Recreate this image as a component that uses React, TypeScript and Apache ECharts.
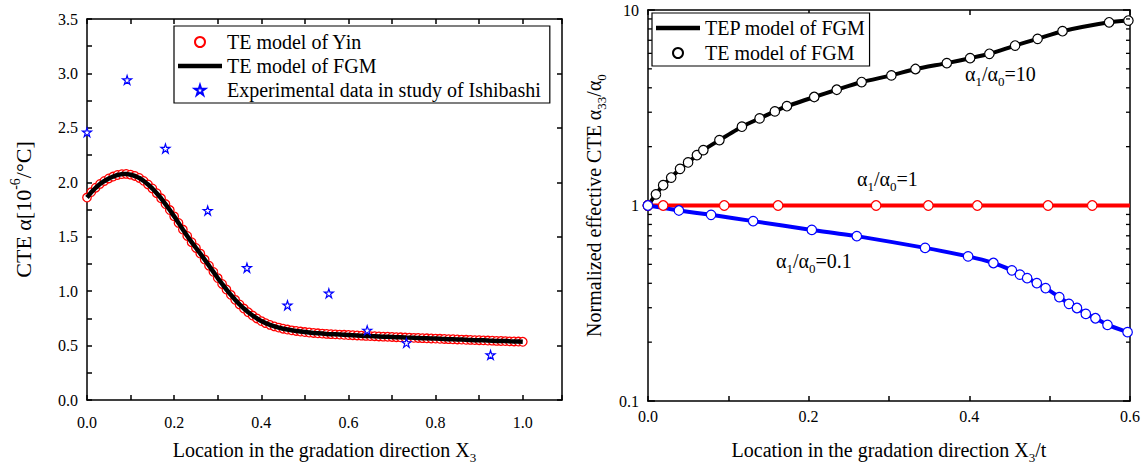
import React, { useEffect, useRef } from 'react';
import * as echarts from 'echarts';

const FONT = 'Liberation Serif';

// ---------- Left panel data ----------
const leftX = [
  0.00, 0.01, 0.02, 0.03, 0.04, 0.05, 0.06, 0.07, 0.08, 0.09,
  0.10, 0.11, 0.12, 0.13, 0.14, 0.15, 0.16, 0.17, 0.18, 0.19,
  0.20, 0.21, 0.22, 0.23, 0.24, 0.25, 0.26, 0.27, 0.28, 0.29,
  0.30, 0.31, 0.32, 0.33, 0.34, 0.35, 0.36, 0.37, 0.38, 0.39,
  0.40, 0.41, 0.42, 0.43, 0.44, 0.45, 0.46, 0.47, 0.48, 0.49,
  0.50, 0.51, 0.52, 0.53, 0.54, 0.55, 0.56, 0.57, 0.58, 0.59,
  0.60, 0.61, 0.62, 0.63, 0.64, 0.65, 0.66, 0.67, 0.68, 0.69,
  0.70, 0.71, 0.72, 0.73, 0.74, 0.75, 0.76, 0.77, 0.78, 0.79,
  0.80, 0.81, 0.82, 0.83, 0.84, 0.85, 0.86, 0.87, 0.88, 0.89,
  0.90, 0.91, 0.92, 0.93, 0.94, 0.95, 0.96, 0.97, 0.98, 0.99,
  1.00,
];
const yinY = [
  1.86, 1.91, 1.95, 1.985, 2.012, 2.035, 2.053, 2.067, 2.075, 2.077,
  2.07, 2.058, 2.04, 2.013, 1.98, 1.943, 1.9, 1.853, 1.8, 1.745,
  1.687, 1.627, 1.566, 1.507, 1.45, 1.397, 1.345, 1.29, 1.234, 1.177,
  1.12, 1.066, 1.015, 0.966, 0.92, 0.878, 0.84, 0.806, 0.776, 0.749,
  0.725, 0.706, 0.69, 0.676, 0.665, 0.655, 0.647, 0.64, 0.634, 0.629,
  0.624, 0.62, 0.616, 0.613, 0.61, 0.607, 0.605, 0.603, 0.601, 0.599,
  0.597, 0.595, 0.593, 0.591, 0.589, 0.587, 0.586, 0.584, 0.582, 0.581,
  0.579, 0.577, 0.576, 0.574, 0.573, 0.571, 0.57, 0.568, 0.567, 0.565,
  0.564, 0.562, 0.561, 0.559, 0.558, 0.556, 0.555, 0.553, 0.552, 0.55,
  0.549, 0.548, 0.546, 0.545, 0.543, 0.542, 0.541, 0.539, 0.538, 0.537,
  0.535,
];
// the FGM model curve coincides with Yin's model
const fgmLeftY = yinY;
const ishibashiX = [0.0, 0.092, 0.18, 0.277, 0.367, 0.46, 0.555, 0.643, 0.733, 0.926];
const ishibashiY = [2.46, 2.94, 2.31, 1.74, 1.215, 0.87, 0.98, 0.64, 0.525, 0.414];

// ---------- Right panel data ----------
const ratio10X = [0, 0.01, 0.019, 0.029, 0.04, 0.05, 0.061, 0.069, 0.089, 0.117, 0.139, 0.158, 0.173,
  0.207, 0.235, 0.266, 0.303, 0.333, 0.372, 0.401, 0.425, 0.457, 0.485, 0.516, 0.574, 0.598];
const ratio10Y = [1.0, 1.14, 1.27, 1.39, 1.54, 1.66, 1.81, 1.92, 2.16, 2.53, 2.79, 3.03, 3.22,
  3.59, 3.91, 4.28, 4.63, 4.99, 5.35, 5.67, 5.97, 6.58, 7.12, 7.79, 8.65, 8.83];
const ratio1LineX = [0, 0.6];
const ratio1LineY = [1, 1];
const ratio1X = [0.0, 0.019, 0.095, 0.162, 0.284, 0.349, 0.41, 0.498, 0.553];
const ratio1Y = [1, 1, 1, 1, 1, 1, 1, 1, 1];
const ratio01X = [0, 0.0386, 0.0786, 0.131, 0.204, 0.26, 0.345, 0.3985, 0.43, 0.453, 0.463, 0.472,
  0.484, 0.495, 0.512, 0.524, 0.534, 0.545, 0.557, 0.572, 0.597];
const ratio01Y = [1.0, 0.943, 0.896, 0.832, 0.75, 0.697, 0.607, 0.549, 0.508, 0.466, 0.443, 0.425,
  0.401, 0.378, 0.34, 0.314, 0.299, 0.279, 0.265, 0.245, 0.225];
const logMinorTicks = [0.2, 0.3, 0.4, 0.5, 0.6, 0.7, 0.8, 0.9, 2, 3, 4, 5, 6, 7, 8, 9];

const zip = (xs: number[], ys: number[]) => xs.map((x, i) => [x, ys[i]]);

const STAR = 'path://M50,2 L61,36 L97,36 L68,57 L79,92 L50,70 L21,92 L32,57 L3,36 L39,36 Z';
const BAR_ICON = 'path://M0,0 L44,0 L44,4.5 L0,4.5 Z';

const rich = {
  sub: { fontFamily: FONT, fontSize: 13, lineHeight: 28, verticalAlign: 'bottom', color: '#000' },
  sup: { fontFamily: FONT, fontSize: 13, lineHeight: 28, verticalAlign: 'top', color: '#000' },
  n: { fontFamily: FONT, fontSize: 20, lineHeight: 24, color: '#000' },
};
const richBig = {
  sub: { fontFamily: FONT, fontSize: 14, lineHeight: 30, verticalAlign: 'bottom', color: '#000' },
  sup: { fontFamily: FONT, fontSize: 14, lineHeight: 30, verticalAlign: 'top', color: '#000' },
};
const nameStyle = { fontFamily: FONT, fontSize: 20, color: '#000', lineHeight: 24, rich };
const lineStyle = { color: '#000', width: 1.5 };
const labelStyle = { fontFamily: FONT, fontSize: 16, color: '#000' };
const legendText = { fontFamily: FONT, fontSize: 20, color: '#000', lineHeight: 20 };

const stepFormatter = (step: number, every: number) => (v: number) => {
  const k = Math.round(v / step);
  if (Math.abs(v / step - k) > 1e-6 || k % every !== 0) return '';
  return (k * step).toFixed(1);
};

function leftOption(): any {
  const baseX = {
    type: 'value', gridIndex: 0, min: 0, max: 1.09, interval: 0.1,
    axisLine: { show: true, onZero: false, lineStyle },
    axisTick: { show: true, inside: true, length: 5, lineStyle },
    splitLine: { show: false },
  };
  const baseY = {
    type: 'value', gridIndex: 0, min: 0, max: 3.5,
    axisLine: { show: true, onZero: false, lineStyle },
    axisTick: { show: true, inside: true, length: 5, lineStyle },
    splitLine: { show: false },
  };
  return {
    animation: false,
    backgroundColor: '#fff',
    grid: [{ left: 78, top: 19, width: 484, height: 387 }],
    xAxis: [
      {
        ...baseX, position: 'bottom',
        axisLabel: { ...labelStyle, margin: 14, formatter: stepFormatter(0.1, 2) },
        name: 'Location in the gradation direction X{sub|3}', nameLocation: 'middle', nameGap: 36,
        nameTextStyle: nameStyle,
      },
      { ...baseX, position: 'top', axisLabel: { show: false } },
    ],
    yAxis: [
      {
        ...baseY, position: 'left', interval: 0.25,
        axisLabel: { ...labelStyle, margin: 9, formatter: stepFormatter(0.25, 2) },
        name: 'CTE α[10{sup|-6}/°C]', nameLocation: 'middle', nameGap: 49,
        nameTextStyle: { fontFamily: FONT, fontSize: 22, color: '#000', lineHeight: 26, rich: richBig },
      },
      { ...baseY, position: 'right', interval: 0.5, axisLabel: { show: false } },
    ],
    legend: {
      orient: 'vertical', left: 174, top: 26,
      padding: [6, 9, 3, 4], itemGap: 4, itemWidth: 44, itemHeight: 10,
      borderColor: '#000', borderWidth: 1.2, backgroundColor: '#fff',
      textStyle: legendText,
      data: [
        { name: 'TE model of Yin' },
        { name: 'TE model of FGM', icon: BAR_ICON },
        { name: 'Experimental data in study of Ishibashi' },
      ],
      selectedMode: false,
    },
    series: [
      {
        name: 'TE model of Yin', type: 'scatter', xAxisIndex: 0, yAxisIndex: 0,
        data: zip(leftX, yinY), symbol: 'circle', symbolSize: 8.5,
        itemStyle: { color: '#fff', borderColor: '#ff0000', borderWidth: 1.3, opacity: 1 },
        z: 2,
      },
      {
        name: 'TE model of FGM', type: 'line', xAxisIndex: 0, yAxisIndex: 0,
        data: zip(leftX, fgmLeftY), symbol: 'none', showSymbol: false,
        lineStyle: { color: '#000', width: 4.5 }, itemStyle: { color: '#000' },
        z: 3,
      },
      {
        name: 'Experimental data in study of Ishibashi', type: 'scatter', xAxisIndex: 0, yAxisIndex: 0,
        data: zip(ishibashiX, ishibashiY), symbol: STAR, symbolSize: 9, clip: false,
        itemStyle: { color: '#fff', borderColor: '#0000ff', borderWidth: 1.2, opacity: 1 },
        z: 4,
      },
    ],
  };
}

function rightOption(): any {
  const baseX = {
    type: 'value', gridIndex: 0, min: 0, max: 0.6,
    axisLine: { show: true, onZero: false, lineStyle },
    axisTick: { show: true, inside: true, length: 5, lineStyle },
    splitLine: { show: false },
  };
  const baseY = {
    type: 'log', logBase: 10, gridIndex: 0, min: 0.1, max: 10,
    axisLine: { show: true, onZero: false, lineStyle },
    axisTick: { show: true, inside: true, length: 7, lineStyle },
    splitLine: { show: false },
  };
  const ox = 572;
  const annot = (text: string, x: number, y: number) => ({
    type: 'text', x: x - ox, y, z: 100,
    style: { text, rich, fontFamily: FONT, fontSize: 20, fill: '#000', verticalAlign: 'middle', align: 'left' },
  });
  return {
    animation: false,
    backgroundColor: '#fff',
    grid: [{ left: 643 - ox, top: 10, width: 487, height: 401 }],
    xAxis: [
      {
        ...baseX, position: 'bottom', interval: 0.1,
        axisLabel: { ...labelStyle, margin: 7, formatter: stepFormatter(0.1, 2) },
        name: 'Location in the gradation direction X{sub|3}/t', nameLocation: 'middle', nameGap: 35,
        nameTextStyle: nameStyle,
      },
      { ...baseX, position: 'top', interval: 0.2, axisLabel: { show: false } },
    ],
    yAxis: [
      {
        ...baseY, position: 'left',
        axisLabel: { ...labelStyle, margin: 9 },
        name: 'Normalized effective CTE α{sub|33}/α{sub|0}', nameLocation: 'middle', nameGap: 33,
        nameTextStyle: nameStyle,
      },
      { ...baseY, position: 'right', axisLabel: { show: false } },
    ],
    legend: {
      orient: 'vertical', left: 652 - ox, top: 13,
      padding: [5, 4, 3, 4], itemGap: 5, itemWidth: 44, itemHeight: 10,
      borderColor: '#000', borderWidth: 1.2, backgroundColor: '#fff',
      textStyle: legendText,
      data: [
        { name: 'TEP model of FGM', icon: BAR_ICON },
        { name: 'TE model of FGM' },
      ],
      selectedMode: false,
    },
    graphic: [
      annot('{n|α}{sub|1}{n|/α}{sub|0}{n|=10}', 965, 74),
      annot('{n|α}{sub|1}{n|/α}{sub|0}{n|=1}', 857, 179),
      annot('{n|α}{sub|1}{n|/α}{sub|0}{n|=0.1}', 776, 261),
    ],
    series: [
      {
        name: 'TEP model of FGM', type: 'line', data: zip(ratio10X, ratio10Y), smooth: 0.2,
        symbol: 'none', showSymbol: false, lineStyle: { color: '#000', width: 4 }, itemStyle: { color: '#000' }, z: 2,
      },
      {
        name: 'TE model of FGM', type: 'scatter', data: zip(ratio10X, ratio10Y), symbol: 'circle', symbolSize: 9.5,
        itemStyle: { color: '#fff', borderColor: '#000', borderWidth: 1.2, opacity: 1 }, z: 5, clip: false,
      },
      {
        name: 'TEP ratio 1', type: 'line', data: zip(ratio1LineX, ratio1LineY),
        symbol: 'none', showSymbol: false, lineStyle: { color: '#ff0000', width: 4 }, z: 3,
      },
      {
        name: 'TE ratio 1', type: 'scatter', data: zip(ratio1X, ratio1Y), symbol: 'circle', symbolSize: 9.5,
        itemStyle: { color: '#fff', borderColor: '#ff0000', borderWidth: 1.2, opacity: 1 }, z: 6, clip: false,
      },
      {
        name: 'TEP ratio 0.1', type: 'line', data: zip(ratio01X, ratio01Y), smooth: 0.2,
        symbol: 'none', showSymbol: false, lineStyle: { color: '#0000ff', width: 4 }, z: 3,
      },
      {
        name: 'TE ratio 0.1', type: 'scatter', data: zip(ratio01X, ratio01Y), symbol: 'circle', symbolSize: 9.5,
        itemStyle: { color: '#fff', borderColor: '#0000ff', borderWidth: 1.2, opacity: 1 }, z: 7, clip: false,
      },
      {
        name: 'minor log ticks', type: 'custom', silent: true, z: 10,
        data: logMinorTicks.map((v) => [0, v]),
        encode: { x: 0, y: 1 },
        renderItem: (params: any, api: any) => {
          const v = api.value(1);
          const pL = api.coord([0, v]);
          const pR = api.coord([0.6, v]);
          return {
            type: 'group',
            children: [
              { type: 'line', shape: { x1: pL[0], y1: pL[1], x2: pL[0] + 4, y2: pL[1] }, style: { stroke: '#000', lineWidth: 1.3 } },
              { type: 'line', shape: { x1: pR[0] - 4, y1: pR[1], x2: pR[0], y2: pR[1] }, style: { stroke: '#000', lineWidth: 1.3 } },
            ],
          };
        },
      },
    ],
  };
}

export default function App() {
  const leftRef = useRef<HTMLDivElement>(null);
  const rightRef = useRef<HTMLDivElement>(null);
  useEffect(() => {
    const l = echarts.init(leftRef.current as HTMLDivElement, null, { renderer: 'svg' });
    const r = echarts.init(rightRef.current as HTMLDivElement, null, { renderer: 'svg' });
    l.setOption(leftOption());
    r.setOption(rightOption());
    return () => {
      l.dispose();
      r.dispose();
    };
  }, []);
  return (
    <div style={{ position: 'fixed', left: 0, top: 0, width: 1145, height: 469, background: '#fff' }}>
      <div ref={leftRef} style={{ position: 'absolute', left: 0, top: 0, width: 572, height: 469 }} />
      <div ref={rightRef} style={{ position: 'absolute', left: 572, top: 0, width: 573, height: 469 }} />
    </div>
  );
}
